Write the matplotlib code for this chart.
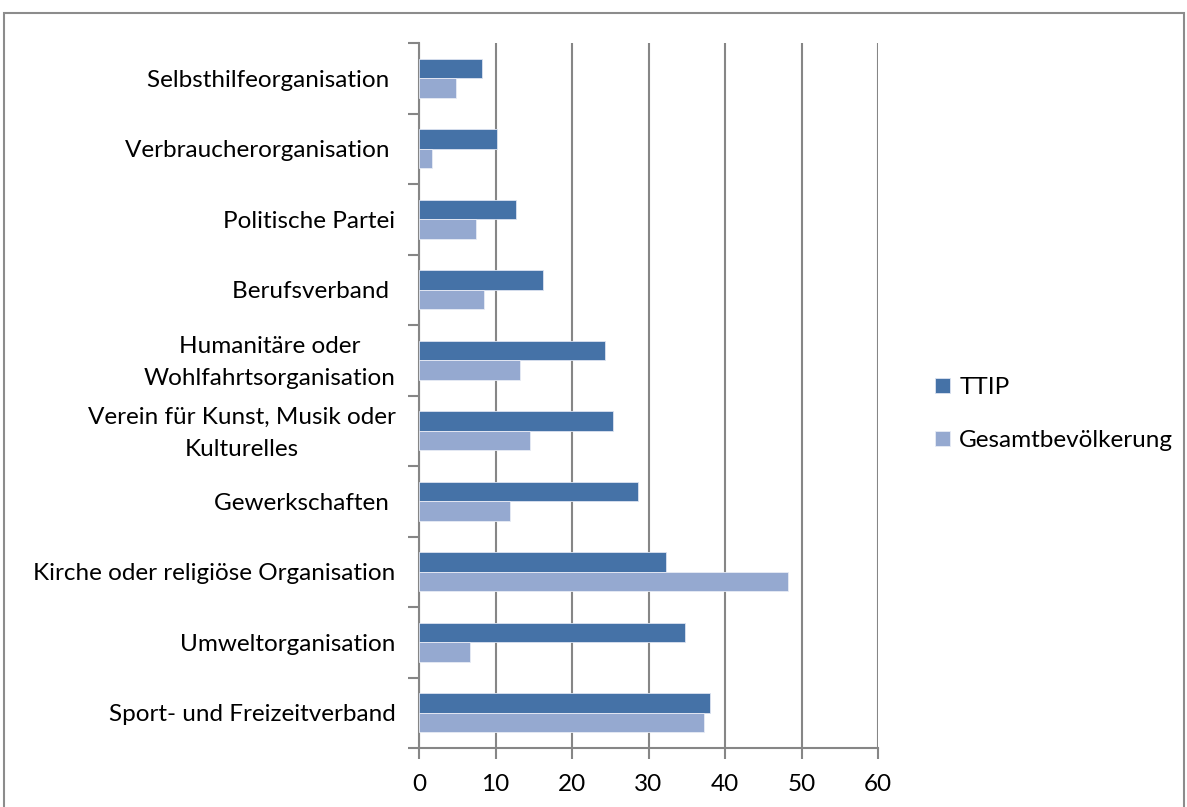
import matplotlib
matplotlib.use("Agg")
import matplotlib.pyplot as plt
import matplotlib.transforms as mtransforms
import numpy as np
from matplotlib.patches import Rectangle

categories = [
    "Sport- und Freizeitverband",
    "Umweltorganisation",
    "Kirche oder religiöse Organisation",
    "Gewerkschaften ",
    "Verein für Kunst, Musik oder\nKulturelles",
    "Humanitäre oder\nWohlfahrtsorganisation",
    "Berufsverband ",
    "Politische Partei",
    "Verbraucherorganisation ",
    "Selbsthilfeorganisation ",
]
ttip = [38.1, 34.8, 32.3, 28.6, 25.3, 24.3, 16.2, 12.7, 10.2, 8.3]
gesamt = [37.3, 6.7, 48.3, 11.9, 14.5, 13.2, 8.5, 7.4, 1.7, 4.8]
series_names = ["TTIP", "Gesamtbevölkerung"]
xticks = [0, 10, 20, 30, 40, 50, 60]

c_ttip = "#4572A7"
c_ges = "#95A9D0"
grid_c = "#868686"

plt.rcParams['font.family'] = ['Lato', 'DejaVu Sans']
FS = 17.5

fig = plt.figure(figsize=(11.87, 8.07), dpi=100)
W, H = 1187, 807
ax = fig.add_axes([419 / W, 1 - 748 / H, (878 - 419) / W, (748 - 43) / H])

y = np.arange(len(categories))
bh = 0.28
ax.barh(y + bh / 2, ttip, height=bh, color=c_ttip, edgecolor="#DCE3F0", linewidth=0.6,
        label=series_names[0], zorder=3)
ax.barh(y - bh / 2, gesamt, height=bh, color=c_ges, edgecolor="#E8ECF5", linewidth=0.6,
        label=series_names[1], zorder=3)

ax.set_xlim(0, 60)
ax.set_ylim(-0.5, len(categories) - 0.5)
ax.set_xticks(xticks)
ax.set_xticklabels([str(v) for v in xticks], fontsize=FS)
ax.set_yticks(y)
ax.set_yticklabels(categories, fontsize=FS, multialignment="center", linespacing=1.65)
ax.set_yticks(np.arange(-0.5, len(categories), 1), minor=True)
ax.tick_params(axis="y", which="major", length=0, pad=17)
ax.tick_params(axis="y", which="minor", length=8, width=1.5, color=grid_c, direction="out")
ax.tick_params(axis="x", which="major", length=8, width=1.5, color=grid_c, direction="out", pad=11)
for lab in ax.get_xticklabels() + ax.get_yticklabels():
    lab.set_color("black")
shift = mtransforms.ScaledTranslation(0, 5 / 100, fig.dpi_scale_trans)
for lab in ax.get_yticklabels():
    if "\n" in lab.get_text():
        lab.set_transform(lab.get_transform() + shift)

ax.grid(axis="x", color=grid_c, linewidth=1.5, zorder=0)
ax.set_axisbelow(True)
for s in ["top", "right"]:
    ax.spines[s].set_visible(False)
for s in ["left", "bottom"]:
    ax.spines[s].set_color(grid_c)
    ax.spines[s].set_linewidth(1.5)

leg = fig.legend(loc="center left", bbox_to_anchor=(935 / W, 1 - 414 / H), frameon=False,
                 fontsize=FS, handlelength=0.6, handleheight=0.6, labelspacing=1.3,
                 handletextpad=0.4, borderpad=0, borderaxespad=0)

fig.patches.append(Rectangle((4 / W, -0.1), (1184 - 4) / W, 1.1 - 13 / H, transform=fig.transFigure,
                             fill=False, edgecolor="#8C8C8C", linewidth=1.5, zorder=0))

fig.savefig("out.png", dpi=100)
